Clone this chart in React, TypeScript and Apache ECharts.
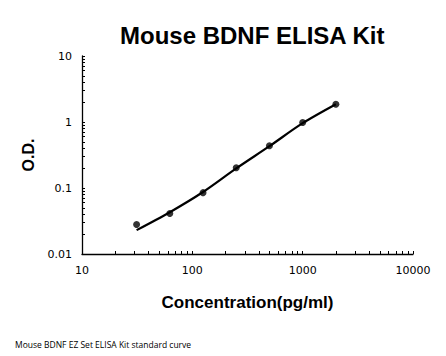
import React, { useEffect, useRef } from "react";
import * as echarts from "echarts";

const titleText = "Mouse BDNF ELISA Kit";
const xAxisName = "Concentration(pg/ml)";
const yAxisName = "O.D.";
const footerText = "Mouse BDNF EZ Set ELISA Kit standard curve";

// standard points
const concentrations = [31.25, 62.5, 125, 250, 500, 1000, 2000];
const odValues = [0.028, 0.041, 0.085, 0.203, 0.437, 0.98, 1.86];
// fitted curve
const curveConc = [31.25, 62.5, 125, 250, 500, 1000, 2000];
const curveOD = [0.023, 0.043, 0.087, 0.198, 0.43, 0.96, 1.86];

const xTicks = [10, 20, 30, 40, 50, 60, 70, 80, 90, 100, 200, 300, 400, 500, 600, 700, 800, 900, 1000, 2000, 3000, 4000, 5000, 6000, 7000, 8000, 9000, 10000];
const yTicks = [0.01, 0.02, 0.03, 0.04, 0.05, 0.06, 0.07, 0.08, 0.09, 0.1, 0.2, 0.3, 0.4, 0.5, 0.6, 0.7, 0.8, 0.9, 1, 2, 3, 4, 5, 6, 7, 8, 9, 10];
const xLabels = [10, 100, 1000, 10000];
const yLabels = [0.01, 0.1, 1, 10];

const fmt = (v: number) => String(Number(Number(v).toPrecision(6)));

export default function App() {
  const ref = useRef<HTMLDivElement>(null);
  useEffect(() => {
    const chart = echarts.init(ref.current!, null, { renderer: "svg" });
    chart.setOption({
      animation: false,
      backgroundColor: "#ffffff",
      title: {
        text: titleText,
        left: 115,
        top: 18,
        textStyle: { fontFamily: "Liberation Sans", fontWeight: "bold", fontSize: 24, color: "#000" },
      },
      grid: { left: 82, right: 33, top: 56, bottom: 102 },
      xAxis: {
        type: "log",
        logBase: 10,
        min: 10,
        max: 10000,
        name: xAxisName,
        nameLocation: "middle",
        nameGap: 40,
        nameTextStyle: { fontFamily: "Liberation Sans", fontWeight: "bold", fontSize: 17, color: "#000" },
        axisLine: { lineStyle: { color: "#000", width: 1.3 } },
        axisTick: { inside: true, length: 3, customValues: xTicks, lineStyle: { color: "#000" } },
        axisLabel: { customValues: xLabels, formatter: fmt, fontFamily: "DejaVu Sans", fontSize: 11, color: "#000", margin: 11 },
        splitLine: { show: false },
      },
      yAxis: {
        type: "log",
        logBase: 10,
        min: 0.01,
        max: 10,
        name: yAxisName,
        nameLocation: "middle",
        nameGap: 37,
        nameTextStyle: { fontFamily: "Liberation Sans", fontWeight: "bold", fontSize: 16, color: "#000" },
        axisLine: { show: true, lineStyle: { color: "#000", width: 1.3 } },
        axisTick: { show: true, inside: true, length: 3, customValues: yTicks, lineStyle: { color: "#000" } },
        axisLabel: { customValues: yLabels, formatter: fmt, fontFamily: "DejaVu Sans", fontSize: 11, color: "#000", margin: 10 },
        splitLine: { show: false },
      },
      graphic: [
        {
          type: "text",
          left: 15,
          top: 340,
          style: { text: footerText, fontFamily: "Open Sans", fontSize: 8.5, fill: "#000" },
        },
      ],
      series: [
        {
          type: "line",
          data: curveConc.map((c, i) => [c, curveOD[i]]),
          smooth: 0.3,
          showSymbol: false,
          symbol: "none",
          lineStyle: { color: "#000", width: 2.2 },
          z: 2,
        },
        {
          type: "scatter",
          data: concentrations.map((c, i) => [c, odValues[i]]),
          symbol: "circle",
          symbolSize: 7,
          itemStyle: { color: "#000" },
          z: 3,
        },
      ],
    });
    return () => chart.dispose();
  }, []);
  return <div ref={ref} style={{ width: 446, height: 356, position: "absolute", left: 0, top: 0 }} />;
}
